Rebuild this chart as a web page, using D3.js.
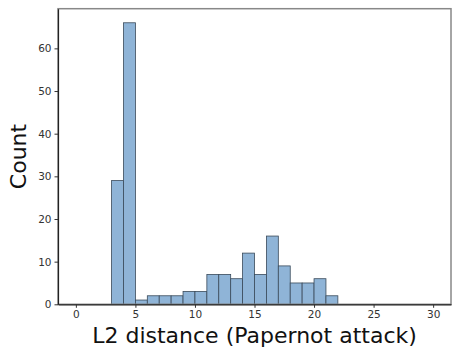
<!DOCTYPE html>
<html>
<head>
<meta charset="utf-8">
<script src="https://cdn.jsdelivr.net/npm/d3@7"></script>
<style>
  body { margin: 0; background: #fff; }
  svg { display: block; font-family: "DejaVu Sans", sans-serif; }
</style>
</head>
<body>
<div id="chart"></div>
<script>
// Histogram bins (left edges, width 1) and counts
const binStarts = [3, 4, 5, 6, 7, 8, 9, 10, 11, 12, 13, 14, 15, 16, 17, 18, 19, 20, 21];
const binCounts = [29, 66, 1, 2, 2, 2, 3, 3, 7, 7, 6, 12, 7, 16, 9, 5, 5, 6, 2];
const xTicks = [0, 5, 10, 15, 20, 25, 30];
const yTicks = [0, 10, 20, 30, 40, 50, 60];

const width = 452;
const height = 348;
const margin = { top: 8.7, right: 1, bottom: 43.7, left: 58 };

const bins = binStarts.map((x0, i) => ({ x0, x1: x0 + 1, count: binCounts[i] }));

const xScale = d3.scaleLinear()
  .domain([-1.5, 31.5])
  .range([margin.left, width - margin.right]);
const yScale = d3.scaleLinear()
  .domain([0, 69.3])
  .range([height - margin.bottom, margin.top]);

const svg = d3.select("#chart").append("svg")
  .attr("width", width)
  .attr("height", height);

// Bars
svg.append("g")
  .selectAll("rect")
  .data(bins)
  .join("rect")
  .attr("x", (d) => xScale(d.x0))
  .attr("width", (d) => xScale(d.x1) - xScale(d.x0))
  .attr("y", (d) => yScale(d.count))
  .attr("height", (d) => yScale(0) - yScale(d.count))
  .attr("fill", "#8fb4d7")
  .attr("stroke", "#3a4a5a")
  .attr("stroke-width", 0.8);

// Frame (top/right spines)
svg.append("rect")
  .attr("x", margin.left)
  .attr("y", margin.top)
  .attr("width", width - margin.right - margin.left)
  .attr("height", yScale(0) - margin.top)
  .attr("fill", "none")
  .attr("stroke", "#888")
  .attr("stroke-width", 1.5);

// Axes
const xAxis = d3.axisBottom(xScale).tickValues(xTicks).tickSize(3.5).tickPadding(3).tickSizeOuter(0);
const yAxis = d3.axisLeft(yScale).tickValues(yTicks).tickSize(3.5).tickPadding(3).tickSizeOuter(0);

const gx = svg.append("g")
  .attr("transform", `translate(0, ${yScale(0)})`)
  .call(xAxis);
const gy = svg.append("g")
  .attr("transform", `translate(${margin.left}, 0)`)
  .call(yAxis);

[gx, gy].forEach((g) => {
  g.select(".domain").attr("stroke", "#222").attr("stroke-width", 1.2);
  g.selectAll(".tick line").attr("stroke", "#333");
  g.selectAll(".tick text").attr("fill", "#333").attr("font-size", 10.5)
    .attr("font-family", "DejaVu Sans, sans-serif");
});

// Axis labels
svg.append("text")
  .attr("x", (xScale(-1.5) + xScale(31.5)) / 2)
  .attr("y", 343)
  .attr("text-anchor", "middle")
  .attr("font-size", 22)
  .attr("fill", "#111")
  .text("L2 distance (Papernot attack)");

svg.append("text")
  .attr("transform", `translate(26, ${(yScale(0) + margin.top) / 2}) rotate(-90)`)
  .attr("text-anchor", "middle")
  .attr("font-size", 22)
  .attr("fill", "#111")
  .text("Count");
</script>
</body>
</html>
